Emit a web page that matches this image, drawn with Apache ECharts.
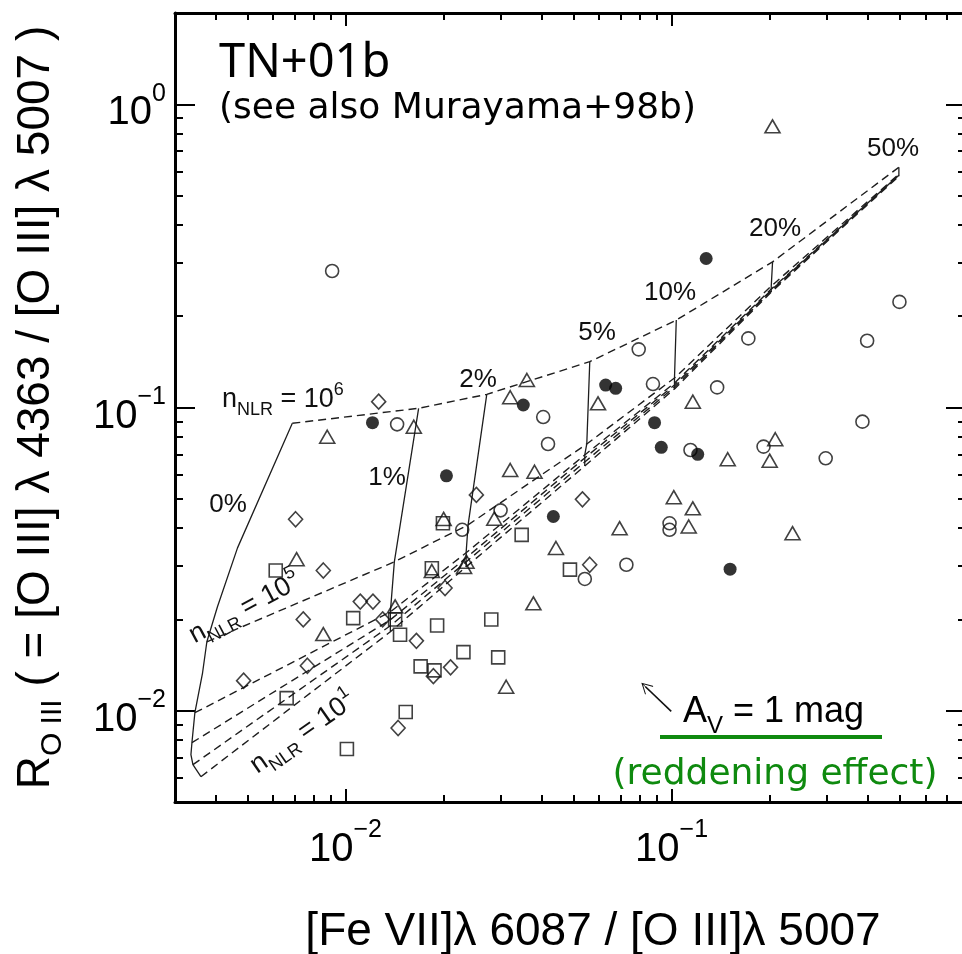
<!DOCTYPE html>
<html>
<head>
<meta charset="utf-8">
<script src="https://cdn.jsdelivr.net/npm/echarts@6.0.0/dist/echarts.min.js"></script>
<style>
html,body{margin:0;padding:0;background:#fff;}
#chart{width:962px;height:954px;}
</style>
</head>
<body>
<div id="chart"></div>
<script>
// ---------------- data ----------------
const xMajorTicks = [0.01, 0.1];
const xMinorTicks = [0.004,0.005,0.006,0.007,0.008,0.009,0.02,0.03,0.04,0.05,0.06,0.07,0.08,0.09,0.2,0.3,0.4,0.5,0.6,0.7];
const yMajorTicks = [0.01, 0.1, 1];
const yMinorTicks = [0.006,0.007,0.008,0.009,0.02,0.03,0.04,0.05,0.06,0.07,0.08,0.09,0.2,0.3,0.4,0.5,0.6,0.7,0.8,0.9];

const openCircles = [[0.0091,0.282],[0.50,0.223],[0.0144,0.088],[0.0404,0.093],[0.0418,0.0758],[0.0228,0.0395],[0.0299,0.0458],[0.0542,0.0272],[0.0727,0.0303],[0.0793,0.1555],[0.172,0.169],[0.398,0.166],[0.0877,0.1195],[0.138,0.1165],[0.385,0.0898],[0.1143,0.0724],[0.1915,0.0743],[0.297,0.068],[0.0986,0.0415],[0.0986,0.0395]];
const filledCircles = [[0.1277,0.310],[0.0121,0.0891],[0.0351,0.1019],[0.0204,0.0595],[0.0434,0.0437],[0.0628,0.1186],[0.0674,0.1157],[0.0887,0.0891],[0.0930,0.0739],[0.1203,0.0701],[0.1512,0.0293]];
const triangles = [[0.204,0.846],[0.0162,0.0864],[0.00879,0.0801],[0.0360,0.1232],[0.0320,0.1081],[0.0320,0.0622],[0.0380,0.0614],[0.0200,0.0429],[0.0286,0.0430],[0.0442,0.0344],[0.0235,0.0310],[0.0231,0.0298],[0.0184,0.0289],[0.00708,0.0316],[0.00855,0.0179],[0.0142,0.0221],[0.0377,0.0226],[0.0311,0.0120],[0.0595,0.1032],[0.1162,0.1045],[0.1487,0.0675],[0.208,0.0786],[0.200,0.0668],[0.1016,0.0506],[0.1162,0.0465],[0.0693,0.0400],[0.1129,0.0405],[0.235,0.0385]];
const squares = [[0.0199,0.0415],[0.0347,0.0380],[0.0488,0.0292],[0.0184,0.0295],[0.00611,0.0290],[0.01056,0.0202],[0.0142,0.0200],[0.0147,0.0178],[0.0191,0.0191],[0.0280,0.0200],[0.0230,0.0156],[0.0294,0.0150],[0.0170,0.0140],[0.01875,0.01358],[0.0066,0.0110],[0.0153,0.0099],[0.0101,0.00748]];
const diamonds = [[0.01264,0.1045],[0.0252,0.0515],[0.0533,0.0498],[0.00703,0.0428],[0.0561,0.0303],[0.00855,0.0290],[0.0202,0.0254],[0.0111,0.0229],[0.01214,0.0229],[0.00742,0.0200],[0.0130,0.0200],[0.0165,0.0170],[0.00487,0.01256],[0.00764,0.01407],[0.0186,0.0130],[0.0210,0.0139],[0.0145,0.00877]];

// model grid: each density line, points at fractions 0,1,2,5,10,20,50 %
const fractions = ['0%','1%','2%','5%','10%','20%','50%'];
const nNLR1e6 = [[0.00687,0.0887],[0.01676,0.0994],[0.02712,0.1105],[0.05613,0.1416],[0.1034,0.1942],[0.2041,0.3022],[0.498,0.620]];
const nNLR1e5 = [[0.003757,0.01688],[0.01412,0.03097],[0.02377,0.04101],[0.05496,0.07582],[0.1021,0.1251],[0.2022,0.2514],[0.498,0.588]];
const nNLR1e4 = [[0.003452,0.009849],[0.01373,0.02119],[0.02344,0.03317],[0.05418,0.06976],[0.1021,0.1204],[0.2022,0.2457],[0.498,0.5834]];
const nNLR1e3 = [[0.003381,0.007844],[0.01373,0.01995],[0.02344,0.03192],[0.05418,0.06819],[0.1021,0.1186],[0.2022,0.2439],[0.498,0.5834]];
const nNLR1e2 = [[0.003405,0.006639],[0.01373,0.01906],[0.02344,0.03097],[0.05418,0.06614],[0.1021,0.1168],[0.2022,0.2420],[0.498,0.5834]];
const nNLR1e1 = [[0.003602,0.006058],[0.01373,0.01821],[0.02344,0.02981],[0.05418,0.06416],[0.1021,0.1151],[0.2022,0.2402],[0.498,0.579]];
const zeroPctCurve = [[0.00687,0.0887],[0.004665,0.03444],[0.004051,0.02207],[0.003757,0.01688],[0.003645,0.01334],[0.003452,0.009849],[0.003381,0.007844],[0.003357,0.00716],[0.003405,0.006639],[0.003602,0.006058]];
const reddeningVector = [[0.0998,0.00995],[0.0832,0.0120]];

// ---------------- chart ----------------
const FONT = '"Liberation Sans", Arial, Helvetica, sans-serif';
const densityLines = [nNLR1e6, nNLR1e5, nNLR1e4, nNLR1e3, nNLR1e2, nNLR1e1];

function powLabel(v){
  const e = Math.round(Math.log10(v));
  return '{b|10}{s|' + (e < 0 ? '\u2212' + (-e) : String(e)) + '}';
}
const tickRich = {
  b:{fontSize:40, lineHeight:64, fontFamily:FONT, color:'#000', verticalAlign:'middle'},
  s:{fontSize:25, lineHeight:25, fontFamily:FONT, color:'#000', verticalAlign:'top'}
};

function makeAxis(isX, pos, ticks, len, major){
  const ax = {
    type:'log', logBase:10, gridIndex:0, position:pos,
    min: isX ? 0.003 : 0.005, max: isX ? 0.8 : 2,
    axisLine:{show:major, onZero:false, lineStyle:{color:'#000', width:3}},
    axisTick:{show:true, inside:true, length:len, customValues:ticks, lineStyle:{color:'#000', width:2}},
    axisLabel:{show:false},
    splitLine:{show:false}, minorTick:{show:false}, minorSplitLine:{show:false},
    nameMoveOverlap:false
  };
  return ax;
}

const xMain = makeAxis(true, 'bottom', xMajorTicks, 13, true);
xMain.axisLabel = {show:true, customValues:xMajorTicks, formatter:powLabel, rich:tickRich, margin:16};
xMain.name = '[Fe VII]\u03bb 6087 / [O III]\u03bb 5007';
xMain.nameLocation = 'middle';
xMain.nameGap = 107;
xMain.nameTextStyle = {fontSize:46, fontFamily:FONT, color:'#000', lineHeight:46, padding:[0,0,0,45]};

const yMain = makeAxis(false, 'left', yMajorTicks, 20, true);
yMain.axisLabel = {show:true, customValues:yMajorTicks, formatter:powLabel, rich:tickRich, margin:9, padding:[18,0,0,0]};
yMain.name = '{r|R}{u|O III}{r| ( = [O III] \u03bb 4363 / [O III] \u03bb 5007 )}';
yMain.nameLocation = 'middle';
yMain.nameGap = 107;
yMain.nameRotate = 90;
yMain.nameTextStyle = {fontSize:46, fontFamily:FONT, color:'#000', rich:{
  r:{fontSize:46, lineHeight:64, fontFamily:FONT, color:'#000', verticalAlign:'middle'},
  u:{fontSize:30, lineHeight:30, fontFamily:FONT, color:'#000', verticalAlign:'bottom'}
}};

const xAxes = [
  xMain,
  makeAxis(true, 'bottom', xMinorTicks, 7, false),
  makeAxis(true, 'top', xMajorTicks, 13, true),
  makeAxis(true, 'top', xMinorTicks, 7, false)
];
const yAxes = [
  yMain,
  makeAxis(false, 'left', yMinorTicks, 8, false),
  makeAxis(false, 'right', yMajorTicks, 20, true),
  makeAxis(false, 'right', yMinorTicks, 8, false)
];

const LINE_COLOR = '#1e1e1e';
const series = [];
densityLines.forEach(function(d){
  series.push({type:'line', data:d, symbol:'none', showSymbol:false, silent:true,
    lineStyle:{color:LINE_COLOR, width:1.4, type:[8,5]}, z:1});
});
series.push({type:'line', data:zeroPctCurve, symbol:'none', showSymbol:false, silent:true,
  lineStyle:{color:LINE_COLOR, width:1.3, type:'solid'}, z:1});
for (let j = 1; j < fractions.length; j++) {
  series.push({type:'line', data:densityLines.map(function(d){return d[j];}), symbol:'none', showSymbol:false, silent:true,
    lineStyle:{color:LINE_COLOR, width:1.3, type:'solid'}, z:1});
}
const openStyle = {color:'rgba(0,0,0,0)', borderColor:'#111', borderWidth:1.6};
series.push({type:'scatter', data:openCircles, symbol:'circle', symbolSize:13, itemStyle:openStyle, silent:true, z:3});
series.push({type:'scatter', data:filledCircles, symbol:'circle', symbolSize:13, itemStyle:{color:'#000'}, silent:true, z:3});
series.push({type:'scatter', data:triangles, symbol:'triangle', symbolSize:[15,13], itemStyle:openStyle, silent:true, z:3});
series.push({type:'scatter', data:squares, symbol:'rect', symbolSize:13, itemStyle:openStyle, silent:true, z:3});
series.push({type:'scatter', data:diamonds, symbol:'diamond', symbolSize:[14,15], itemStyle:openStyle, silent:true, z:3});
series.push({type:'lines', coordinateSystem:'cartesian2d', xAxisIndex:0, yAxisIndex:0, silent:true,
  symbol:['none','path://M0,10 L10,0 L20,10 L19,11 L10.5,2.5 L10.5,11 L9.5,11 L9.5,2.5 L1,11 Z'],
  symbolSize:[21,11.5],
  lineStyle:{color:'#111', width:1.6, opacity:1},
  data:[{coords:reddeningVector}], z:3});

const pctPos = [[228,505],[387,478],[478,380],[597,333],[670,293],[775,229],[893,149]];
const nRich = {
  n:{fontSize:27, lineHeight:38, fontFamily:FONT, fill:'#111', verticalAlign:'middle'},
  b:{fontSize:18, lineHeight:18, fontFamily:FONT, fill:'#111', verticalAlign:'bottom'},
  p:{fontSize:18, lineHeight:18, fontFamily:FONT, fill:'#111', verticalAlign:'top'}
};
const graphics = [
  {type:'text', x:219, y:64, style:{text:'TN+01b', fontSize:47, fontFamily:'"Noto Sans"', fill:'#000', align:'left', verticalAlign:'middle'}},
  {type:'text', x:219, y:109, style:{text:'(see also Murayama+98b)', fontSize:36, fontFamily:'"DejaVu Sans"', fill:'#000', align:'left', verticalAlign:'middle'}},
  {type:'text', x:222, y:400, style:{text:'{n|n}{b|NLR}{n| = 10}{p|6}', rich:nRich, align:'left', verticalAlign:'middle'}},
  {type:'text', x:191, y:637, rotation:28*Math.PI/180, style:{text:'{n|n}{b|NLR}{n| = 10}{p|5}', rich:nRich, align:'left', verticalAlign:'middle'}},
  {type:'text', x:253, y:768, rotation:35*Math.PI/180, style:{text:'{n|n}{b|NLR}{n| = 10}{p|1}', rich:nRich, align:'left', verticalAlign:'middle'}},
  {type:'text', x:683, y:712, style:{text:'{a|A}{v|V}{a| = 1 mag}', align:'left', verticalAlign:'middle', rich:{
    a:{fontSize:36, lineHeight:52, fontFamily:FONT, fill:'#000', verticalAlign:'middle'},
    v:{fontSize:24, lineHeight:24, fontFamily:FONT, fill:'#000', verticalAlign:'bottom'}}}},
  {type:'line', shape:{x1:660, y1:737, x2:882, y2:737}, style:{stroke:'#0f8a0f', lineWidth:4}},
  {type:'text', x:775, y:775, style:{text:'(reddening effect)', fontSize:36, fontFamily:'"DejaVu Sans"', fill:'#0f8a0f', align:'center', verticalAlign:'middle'}}
];
fractions.forEach(function(t, i){
  graphics.push({type:'text', x:pctPos[i][0], y:pctPos[i][1], style:{text:t, fontSize:26, fontFamily:FONT, fill:'#111', align:'center', verticalAlign:'middle'}});
});

const option = {
  animation:false,
  backgroundColor:'#fff',
  grid:{left:175, top:13, width:791, height:789, outerBoundsMode:'none', containLabel:false},
  xAxis:xAxes,
  yAxis:yAxes,
  series:series,
  graphic:graphics
};
const chart = echarts.init(document.getElementById('chart'), null, {renderer:'canvas'});
chart.setOption(option);
</script>
</body>
</html>
